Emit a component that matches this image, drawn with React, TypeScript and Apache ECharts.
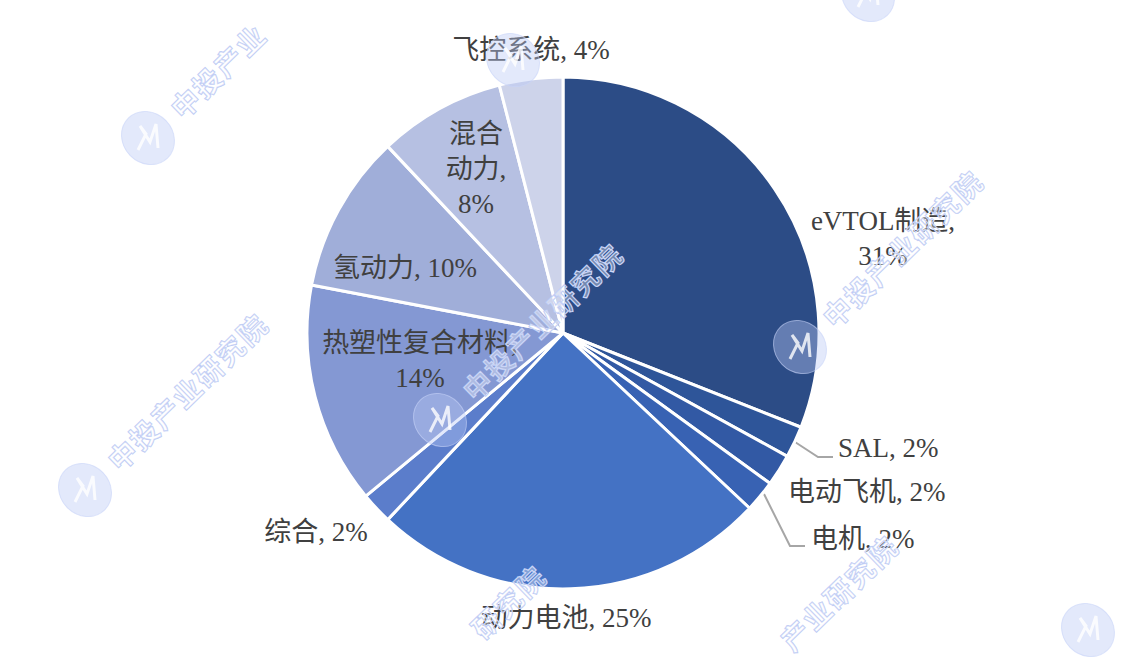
import React, { useEffect, useRef } from "react";
import * as echarts from "echarts";

const categories = ["eVTOL制造", "SAL", "电动飞机", "电机", "动力电池", "综合", "热塑性复合材料", "氢动力", "混合动力", "飞控系统"];
const shares = [31, 2, 2, 2, 25, 2, 14, 10, 8, 4];
const labelNames = ["eVTOL制造", "SAL", "电动飞机", "电机", "动力电池", "综合", "热塑性复合材料", "氢动力", "混合\n动力", "飞控系统"];
const wrapBeforeValue = [true, false, false, false, false, false, true, false, true, false];
const colors = ["#2C4C86", "#2E5599", "#3259A4", "#3862B3", "#4472C4", "#5B7DCB", "#8498D3", "#A0AED9", "#B6C0E2", "#CDD3EA"];

// label placement (page pixels)
const labelPlaces: { x: number; y: number; align: string; line?: number[][] }[] = [
  { x: 883, y: 238, align: "center" },
  { x: 838, y: 448, align: "left", line: [[795, 442], [818, 457], [833, 457]] },
  { x: 788, y: 492, align: "left" },
  { x: 811, y: 539, align: "left", line: [[764, 494], [790, 546], [805, 546]] },
  { x: 566, y: 618, align: "center" },
  { x: 316, y: 532, align: "center" },
  { x: 420, y: 360, align: "center" },
  { x: 405, y: 268, align: "center" },
  { x: 476, y: 169, align: "center" },
  { x: 531, y: 50, align: "center" },
];

const watermarkText = "中投产业研究院";
const watermarkSpots = [
  [148, 138], [513, 60], [868, -5], [800, 347], [440, 420], [85, 490], [1088, 630], [363, 742], [715, 712],
];

const W = 1124;
const H = 663;
const ANG = 0.77;

function watermark(x: number, y: number) {
  const dx = Math.cos(ANG);
  const dy = -Math.sin(ANG);
  const els: any[] = [
    {
      type: "ellipse",
      x,
      y,
      rotation: ANG,
      shape: { cx: 0, cy: 0, rx: 25, ry: 28 },
      style: { fill: "rgba(185,200,245,0.40)", stroke: "rgba(200,212,248,0.6)", lineWidth: 1 },
      silent: true,
      z: 100,
    },
    {
      type: "polyline",
      x,
      y,
      shape: { points: [[-10, 12], [-2, -4], [-8, -12], [2, 4], [8, -14], [10, 10]] },
      style: { stroke: "rgba(255,255,255,0.8)", lineWidth: 3, fill: null },
      silent: true,
      z: 101,
    },
  ];
  const chars = Array.from(watermarkText);
  chars.forEach((ch, i) => {
    const d = 51 + i * 30;
    const cx = x + dx * d;
    const cy = y + dy * d;
    if (cx < 28 || cx > W - 28 || cy < 28 || cy > H - 28) return;
    els.push({
      type: "text",
      x: cx,
      y: cy,
      rotation: ANG,
      silent: true,
      z: 100,
      style: {
        text: ch,
        font: "bold 28px 'Noto Sans CJK SC'",
        fill: "rgba(255,255,255,0.35)",
        stroke: "#bccaf4",
        lineWidth: 1.2,
        verticalAlign: "middle",
        align: "center",
      },
    });
  });
  return els;
}

export default function App() {
  const ref = useRef<HTMLDivElement>(null);
  useEffect(() => {
    document.body.style.margin = "0";
    const chart = echarts.init(ref.current!, null, { renderer: "svg" });
    const data = categories.map((name, i) => ({
      name,
      value: shares[i],
      itemStyle: { color: colors[i] },
      labelLine: { show: !!labelPlaces[i].line },
    }));
    const graphics: any[] = [];
    watermarkSpots.forEach(([x, y]) => graphics.push(...watermark(x, y)));
    chart.setOption({
      animation: false,
      backgroundColor: "#ffffff",
      series: [
        {
          type: "pie",
          center: [563, 333],
          radius: 256,
          startAngle: 90,
          clockwise: true,
          avoidLabelOverlap: false,
          itemStyle: { borderColor: "#ffffff", borderWidth: 3 },
          label: {
            show: true,
            position: "outside",
            color: "#404040",
            fontSize: 27,
            lineHeight: 35,
            fontFamily: "'Liberation Serif', 'Noto Sans CJK SC', serif",
            formatter: (p: any) =>
              labelNames[p.dataIndex] + "," + (wrapBeforeValue[p.dataIndex] ? "\n" : " ") + p.value + "%",
          },
          labelLine: { lineStyle: { color: "#A6A6A6", width: 2 } },
          emphasis: { disabled: true },
          labelLayout: (params: any) => {
            const L = labelPlaces[params.dataIndex];
            const out: any = { x: L.x, y: L.y, align: L.align, verticalAlign: "middle" };
            if (L.line) out.labelLinePoints = L.line;
            return out;
          },
          data,
        },
      ],
      graphic: graphics,
    });
    return () => chart.dispose();
  }, []);
  return <div ref={ref} style={{ width: W, height: H }} />;
}
